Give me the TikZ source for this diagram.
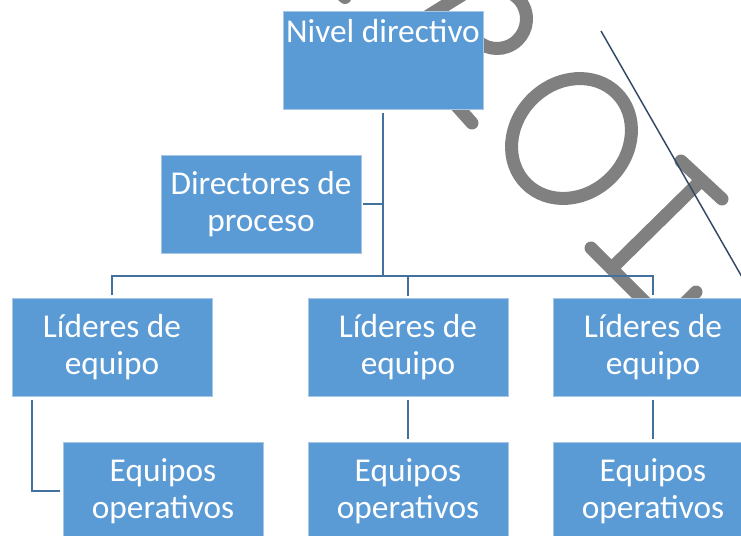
\documentclass[tikz,border=0pt]{standalone}
\usepackage{fontspec}
\setmainfont{Carlito}
\definecolor{cajaazul}{RGB}{91,155,213}
\definecolor{bordeazul}{RGB}{167,199,231}
\definecolor{enlaceazul}{RGB}{65,113,156}
\definecolor{marcagris}{RGB}{128,128,128}
\definecolor{rayaoscura}{RGB}{52,73,102}

\begin{document}
\begin{tikzpicture}[x=0.75pt, y=0.75pt,
    caja/.style={rectangle, fill=cajaazul, draw=bordeazul, line width=0.6pt, text=white,
      minimum width=150pt, minimum height=73.5pt, inner sep=0pt, align=center,
      font=\fontsize{25}{27.75}\selectfont},
    enlace/.style={draw=enlaceazul, line width=1.6pt},
    hueco/.style={shorten <=2pt, shorten >=2pt},
    trazo/.style={draw=marcagris, line width=9.75pt, line cap=round}]
\useasboundingbox (0,0) rectangle (741,-535);
\clip (0,0) rectangle (741,-535);
% marca de agua
\draw[trazo] (338,9) -- (345,2.5);
\draw[trazo] (428,-16) -- (470,10);
\draw[trazo] (497,-19) ++(110:29.5) arc[start angle=110, end angle=-150, radius=29.5];
\draw[trazo] (455,-104) -- (472,-123);
\draw[trazo, rotate around={45:(571.5,-138.5)}] (571.5,-138.5) ellipse [x radius=64, y radius=55.6];
\draw[trazo] (681,-161) -- (722,-199);
\draw[trazo] (701.5,-180) -- (611.5,-268.5);
\draw[trazo] (591,-248) -- (660,-317);
\draw[trazo] (696,-292) -- (680,-308);
\draw[rayaoscura, line width=1.1pt] (601,-31) -- (750,-291);
% cajas
\node[caja, text height=24pt, text depth=49.5pt] (nivel) at (383,-60) {Nivel directivo};
\node[caja] (dirproc) at (261,-204) {Directores de\\proceso};
\node[caja] (lider1) at (112,-347.5) {Líderes de\\equipo};
\node[caja, node distance=222pt, right of=lider1] (lider2) {Líderes de\\equipo};
\node[caja, node distance=183.75pt, right of=lider2] (lider3) {Líderes de\\equipo};
\node[caja, node distance=107.6pt, below of=lider1, xshift=38.25pt] (equipo1) {Equipos\\operativos};
\node[caja, node distance=107.6pt, below of=lider2] (equipo2) {Equipos\\operativos};
\node[caja, node distance=107.6pt, below of=lider3] (equipo3) {Equipos\\operativos};
% enlaces
\coordinate (bus) at (382,-276);
\draw[enlace, shorten <=2.5pt] (nivel.south) -- (nivel.south |- bus);
\draw[enlace, shorten <=1.5pt] (dirproc.east) -- (dirproc.east -| nivel.south);
\draw[enlace, hueco] (lider1.north) -- (lider1.north |- bus) -- (lider3.north |- bus) -- (lider3.north);
\draw[enlace, shorten >=1.5pt] (lider2.north |- bus) -- (lider2.north);
\draw[enlace, hueco] ([xshift=15pt]lider1.south west) |- (equipo1.west);
\draw[enlace, hueco] (lider2) -- (equipo2);
\draw[enlace, hueco] (lider3) -- (equipo3);
\end{tikzpicture}
\end{document}
